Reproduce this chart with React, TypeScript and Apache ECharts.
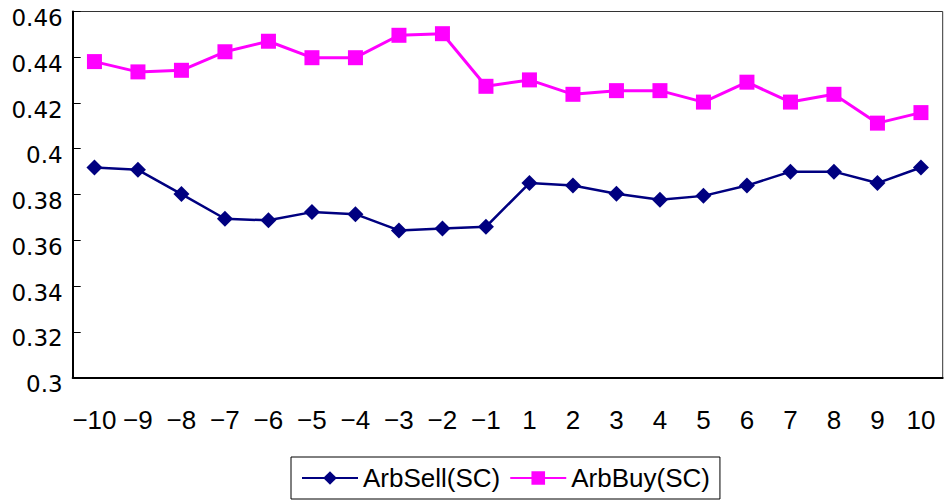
import React, { useEffect, useRef } from "react";
import * as echarts from "echarts";

const categories = ["−10", "−9", "−8", "−7", "−6", "−5", "−4", "−3", "−2", "−1", "1", "2", "3", "4", "5", "6", "7", "8", "9", "10"];
const arbSell = [0.3918, 0.3908, 0.3802, 0.3694, 0.3687, 0.3723, 0.3714, 0.3643, 0.3651, 0.3659, 0.385, 0.3839, 0.3803, 0.3777, 0.3794, 0.3839, 0.39, 0.39, 0.385, 0.3918];
const arbBuy = [0.4381, 0.4336, 0.4343, 0.4424, 0.447, 0.4398, 0.4398, 0.4496, 0.4503, 0.4273, 0.4301, 0.4238, 0.4254, 0.4254, 0.4204, 0.4291, 0.4204, 0.4238, 0.4112, 0.4158];
const seriesNames = ["ArbSell(SC)", "ArbBuy(SC)"];

export default function App() {
  const ref = useRef<HTMLDivElement>(null);
  useEffect(() => {
    if (!ref.current) return;
    const chart = echarts.init(ref.current, null, { renderer: "svg" });
    chart.setOption({
      animation: false,
      backgroundColor: "#fff",
      grid: {
        left: 72.7,
        right: 3.3,
        top: 11.5,
        bottom: 122.5,
        show: true,
        borderColor: "#333",
        borderWidth: 1,
      },
      legend: {
        data: seriesNames,
        left: 291,
        top: 457,
        orient: "horizontal",
        itemWidth: 56,
        itemHeight: 17,
        itemGap: 9,
        padding: [8, 10, 8, 10],
        borderColor: "#000",
        borderWidth: 1,
        borderRadius: 0,
        textStyle: { fontFamily: "Liberation Sans", fontSize: 26, color: "#000" },
      },
      xAxis: {
        type: "category",
        data: categories,
        boundaryGap: true,
        axisLine: { lineStyle: { color: "#000", width: 2 } },
        axisTick: { inside: true, length: 8, lineStyle: { color: "#000", width: 1 } },
        axisLabel: { fontFamily: "Liberation Sans", fontSize: 26, color: "#000", margin: 29, interval: 0 },
        splitLine: { show: false },
      },
      yAxis: {
        type: "value",
        min: 0.3,
        max: 0.46,
        interval: 0.02,
        axisLine: { show: true, lineStyle: { color: "#000", width: 2 } },
        axisTick: { show: true, inside: true, length: 8, lineStyle: { color: "#000", width: 1 } },
        axisLabel: {
          margin: 10,
          formatter: "{a|{value}}",
          rich: {
            a: { fontFamily: "DejaVu Sans", fontSize: 23, color: "#000", padding: [13, 0, 0, 0] },
          },
        },
        splitLine: { show: false },
      },
      series: [
        {
          name: seriesNames[0],
          type: "line",
          data: arbSell,
          symbol: "diamond",
          symbolSize: 16,
          color: "#000080",
          lineStyle: { color: "#000080", width: 2.5 },
          itemStyle: { color: "#000080" },
        },
        {
          name: seriesNames[1],
          type: "line",
          data: arbBuy,
          symbol: "rect",
          symbolSize: 15,
          color: "#FF00FF",
          lineStyle: { color: "#FF00FF", width: 3 },
          itemStyle: { color: "#FF00FF" },
        },
      ],
    });
    return () => chart.dispose();
  }, []);
  return <div ref={ref} style={{ position: "fixed", left: 0, top: 0, width: 946, height: 500 }} />;
}
